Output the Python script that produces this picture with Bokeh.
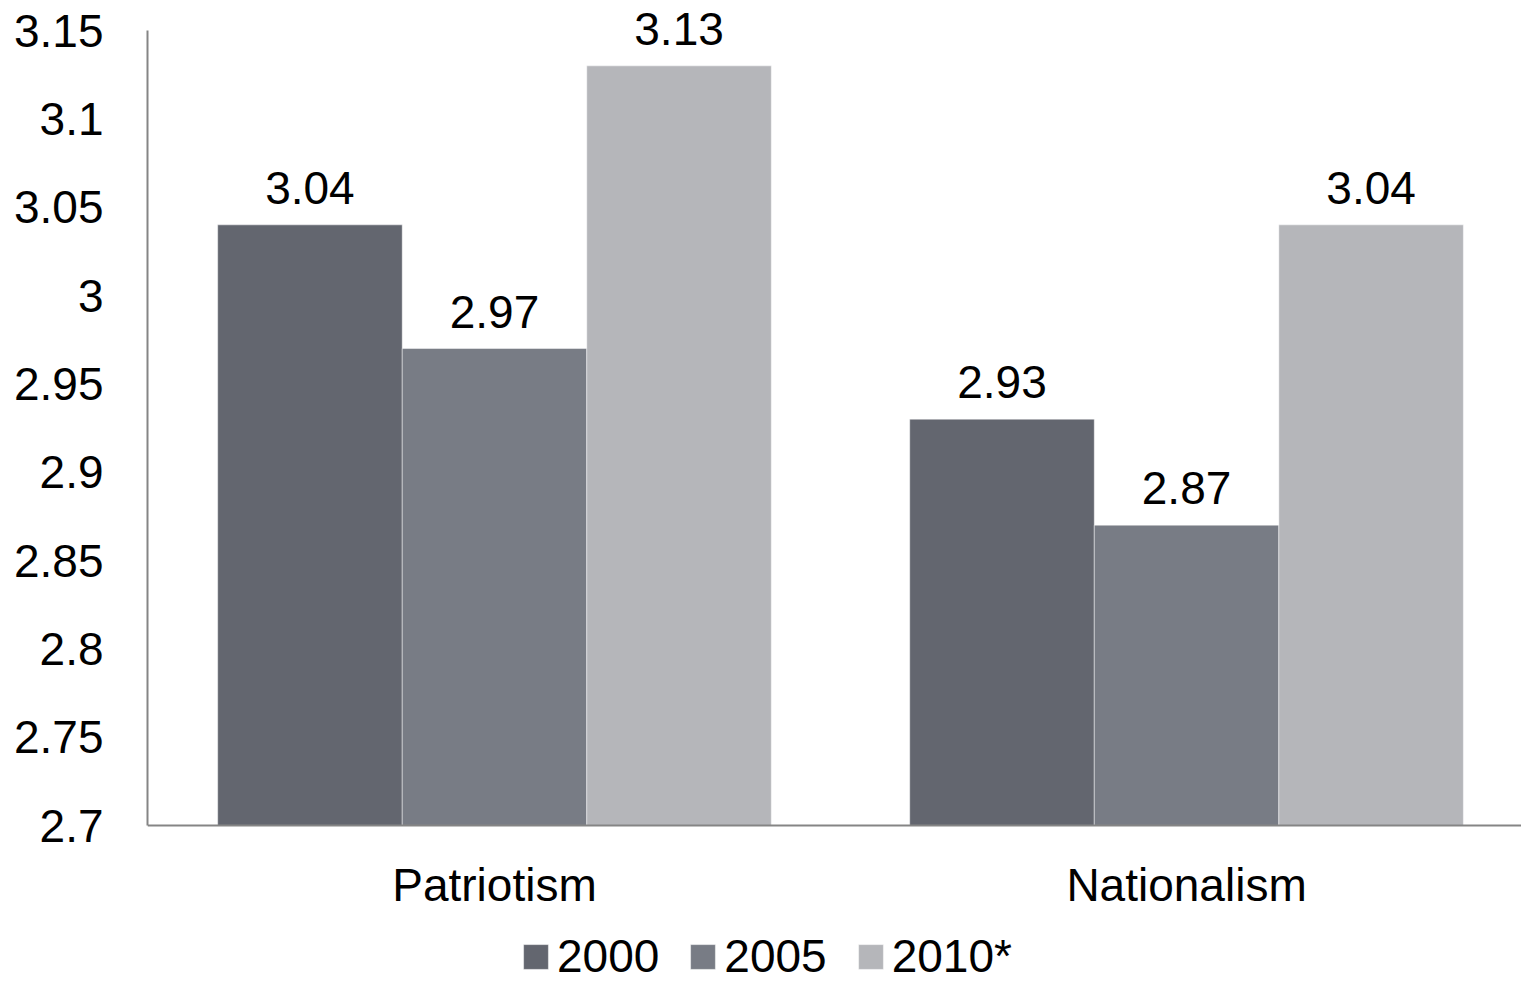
from bokeh.plotting import figure
from bokeh.models import (ColumnDataSource, Range1d, FixedTicker, Legend, LegendItem,
                          LabelSet, LinearAxis)
from bokeh.core.properties import value
from bokeh.embed import file_html
from bokeh.resources import INLINE

# Data
categories = ["Patriotism", "Nationalism"]
series_names = ["2000", "2005", "2010*"]
values_2000 = [3.04, 2.93]
values_2005 = [2.97, 2.87]
values_2010 = [3.13, 3.04]
y_ticks = [2.7, 2.75, 2.8, 2.85, 2.9, 2.95, 3.0, 3.05, 3.1, 3.15]
y_tick_labels = ["2.7", "2.75", "2.8", "2.85", "2.9", "2.95", "3", "3.05", "3.1", "3.15"]

colors = ["#63666f", "#787c85", "#b5b6ba"]
FONT = "Liberation Sans"
FS = "46px"
Y_MIN, Y_MAX = 2.7, 3.15

# The frame spans the whole canvas so value labels and the legend are not clipped;
# the axes are bounded to the real value range.
p = figure(width=1521, height=984, output_backend="svg", toolbar_location=None,
           x_range=Range1d(-0.5014, 1.484), y_range=Range1d(2.61, 3.167),
           x_axis_type=None,
           min_border_left=147, min_border_right=0, min_border_top=0,
           min_border_bottom=0)
p.outline_line_color = None
p.grid.grid_line_color = None
p.background_fill_color = "white"
p.border_fill_color = "white"

bar_w = 0.8 / 3
offsets = [-bar_w, 0.0, bar_w]
all_values = [values_2000, values_2005, values_2010]
legend_items = []
for name, vals, off, col in zip(series_names, all_values, offsets, colors):
    src = ColumnDataSource(dict(
        x=[i + off for i in range(len(categories))],
        top=vals,
        lab=[f"{v:.2f}" for v in vals],
    ))
    r = p.vbar(x="x", top="top", bottom=Y_MIN, width=bar_w, source=src,
               fill_color=col, line_color="#ffffff", line_alpha=0.45, line_width=1)
    legend_items.append(LegendItem(label=name, renderers=[r]))
    p.add_layout(LabelSet(x="x", y="top", text="lab", source=src,
                          text_align="center", text_baseline="alphabetic",
                          y_offset=21, text_font=value(FONT), text_font_size=FS,
                          text_color="#000000"))

xaxis = LinearAxis(fixed_location=Y_MIN)
p.add_layout(xaxis, "below")

# Axes
p.yaxis.ticker = FixedTicker(ticks=y_ticks)
p.yaxis.major_label_overrides = {t: s for t, s in zip(y_ticks, y_tick_labels)}
p.yaxis.bounds = (Y_MIN, Y_MAX)
xaxis.ticker = FixedTicker(ticks=list(range(len(categories))))
xaxis.major_label_overrides = {i: c for i, c in enumerate(categories)}
for ax in (xaxis, p.yaxis[0]):
    ax.axis_line_color = "#858585"
    ax.axis_line_width = 2
    ax.major_tick_line_color = None
    ax.minor_tick_line_color = None
    ax.major_tick_out = 0
    ax.major_tick_in = 0
    ax.major_label_text_font = FONT
    ax.major_label_text_font_size = FS
    ax.major_label_text_color = "#000000"
p.yaxis.major_label_standoff = 44
xaxis.major_label_standoff = 33

legend = Legend(items=legend_items, orientation="horizontal",
                location=(373, 1), glyph_width=31, glyph_height=31,
                label_standoff=6, spacing=28, padding=0, margin=0,
                label_text_font=FONT, label_text_font_size=FS,
                label_text_color="#000000", border_line_color=None,
                background_fill_alpha=0)
p.add_layout(legend, "center")

open("out.html", "w").write(file_html(p, INLINE))
